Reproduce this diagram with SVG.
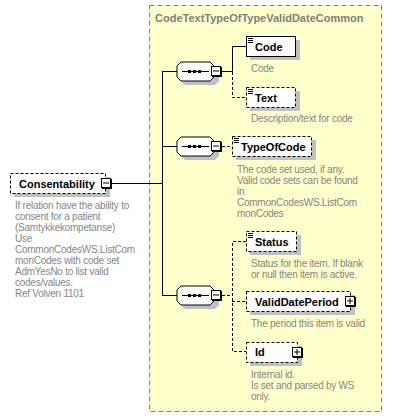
<svg xmlns="http://www.w3.org/2000/svg" width="414" height="418" viewBox="0 0 414 418">
<style>
.name{font-family:"Liberation Sans",Arial,sans-serif;font-size:11px;font-weight:bold;fill:#000}
.ann{font-family:"Liberation Sans",Arial,sans-serif;font-size:10px;fill:#868686;letter-spacing:-0.25px}
.title{font-family:"Liberation Sans",Arial,sans-serif;font-size:11px;font-weight:bold;fill:#808080}
.box{fill:#fff;stroke:#000;stroke-width:1}
.opt{stroke-dasharray:3,2}
.sh{fill:#c0c0c0}
.ln{stroke:#000;stroke-width:1;fill:none}
.dl{stroke:#000;stroke-width:1;fill:none;stroke-dasharray:3,2}
.btn{fill:#fff;stroke:#000;stroke-width:1}
</style>
<defs>
<g id="minus"><rect x="1" y="1" width="10" height="10" fill="#000"/><rect x="0.5" y="0.5" width="9" height="9" class="btn"/><line x1="2" y1="5" x2="8" y2="5" stroke="#000"/></g>
<g id="plus"><rect x="1" y="1" width="10" height="10" fill="#000"/><rect x="0.5" y="0.5" width="9" height="9" class="btn"/><line x1="2" y1="5" x2="8" y2="5" stroke="#000"/><line x1="5" y1="2" x2="5" y2="8" stroke="#000"/></g>
<g id="icon"><line x1="0" y1="0.5" x2="5" y2="0.5" stroke="#000"/><line x1="0" y1="2.5" x2="5" y2="2.5" stroke="#000"/><line x1="0" y1="4.5" x2="5" y2="4.5" stroke="#000"/></g>
<g id="seq">
<polygon points="9,4 39,4 43,8 43,19 39,23 9,23 5,19 5,8" class="sh"/>
<polygon points="5,0 34,0 38,4 38,15 34,19 5,19 1,15 1,4" fill="#fff" stroke="#000"/>
<line x1="6" y1="9.5" x2="33" y2="9.5" stroke="#000"/>
<rect x="12" y="8" width="3" height="3" fill="#000"/><rect x="17" y="8" width="3" height="3" fill="#000"/><rect x="22" y="8" width="3" height="3" fill="#000"/>
</g>
</defs>
<rect x="149.5" y="5.5" width="232" height="406" fill="#ffffcc" stroke="#808080" stroke-dasharray="5,3"/>
<text class="title" x="155" y="22">CodeTextTypeOfTypeValidDateCommon</text>
<g id="connectors">
<line x1="111" y1="183.5" x2="162" y2="183.5" class="ln"/>
<line x1="162.5" y1="71" x2="162.5" y2="296" class="ln"/>
<line x1="162" y1="71.5" x2="177" y2="71.5" class="ln"/>
<line x1="162" y1="146.5" x2="177" y2="146.5" class="ln"/>
<line x1="162" y1="295.5" x2="177" y2="295.5" class="ln"/>
<polyline points="222,71.5 232.5,71.5 232.5,46.5 246,46.5" class="ln"/>
<polyline points="232.5,72 232.5,97.5 246,97.5" class="dl"/>
<line x1="222" y1="146.5" x2="232" y2="146.5" class="dl"/>
<line x1="222" y1="295.5" x2="232" y2="295.5" class="dl"/>
<polyline points="246,241.5 232.5,241.5 232.5,351.5 246,351.5" class="dl"/>
<line x1="232" y1="301.5" x2="246" y2="301.5" class="dl"/>
</g>
<g id="Consentability">
<rect x="14" y="177" width="96" height="20" class="sh"/>
<rect x="10.5" y="173.5" width="95" height="20" class="box opt"/>
<text class="name" x="19" y="188">Consentability</text>
<use href="#minus" x="101" y="178"/>
<text class="ann" x="15" y="209">If relation have the ability to</text>
<text class="ann" x="15" y="220">consent for a patient</text>
<text class="ann" x="15" y="231">(Samtykkekompetanse)</text>
<text class="ann" x="15" y="242">Use</text>
<text class="ann" x="15" y="253">CommonCodesWS.ListCom</text>
<text class="ann" x="15" y="264">monCodes with code set</text>
<text class="ann" x="15" y="275">AdmYesNo to list valid</text>
<text class="ann" x="15" y="286">codes/values.</text>
<text class="ann" x="15" y="297">Ref Volven 1101</text>
</g>
<g id="seq1">
<use href="#seq" x="176" y="62"/>
<use href="#minus" x="211" y="66"/>
</g>
<g id="seq2">
<use href="#seq" x="176" y="137"/>
<use href="#minus" x="211" y="141"/>
</g>
<g id="seq3">
<use href="#seq" x="176" y="286"/>
<use href="#minus" x="211" y="290"/>
</g>
<g id="Code">
<rect x="250" y="40" width="50" height="20" class="sh"/>
<rect x="246.5" y="36.5" width="49" height="20" class="box"/>
<use href="#icon" x="248" y="38"/>
<text class="name" x="255" y="51">Code</text>
<text class="ann" x="251" y="72">Code</text>
</g>
<g id="Text">
<rect x="250" y="91" width="50" height="20" class="sh"/>
<rect x="246.5" y="87.5" width="49" height="20" class="box opt"/>
<use href="#icon" x="248" y="89"/>
<text class="name" x="255" y="102">Text</text>
<text class="ann" x="251" y="122">Description/text for code</text>
</g>
<g id="TypeOfCode">
<rect x="236" y="140" width="80" height="20" class="sh"/>
<rect x="232.5" y="136.5" width="79" height="20" class="box opt"/>
<use href="#icon" x="234" y="138"/>
<text class="name" x="241" y="151">TypeOfCode</text>
<text class="ann" x="237" y="173">The code set used, if any.</text>
<text class="ann" x="237" y="184">Valid code sets can be found</text>
<text class="ann" x="237" y="195">in</text>
<text class="ann" x="237" y="206">CommonCodesWS.ListCom</text>
<text class="ann" x="237" y="217">monCodes</text>
</g>
<g id="Status">
<rect x="250" y="235" width="51" height="20" class="sh"/>
<rect x="246.5" y="231.5" width="50" height="20" class="box opt"/>
<use href="#icon" x="248" y="233"/>
<text class="name" x="255" y="246">Status</text>
<text class="ann" x="251" y="267">Status for the item. If blank</text>
<text class="ann" x="251" y="278">or null then item is active.</text>
</g>
<g id="ValidDatePeriod">
<rect x="250" y="295" width="105" height="20" class="sh"/>
<rect x="246.5" y="291.5" width="104" height="20" class="box opt"/>
<text class="name" x="255" y="306">ValidDatePeriod</text>
<use href="#plus" x="345" y="296"/>
<text class="ann" x="251" y="327">The period this item is valid</text>
</g>
<g id="Id">
<rect x="250" y="346" width="52" height="20" class="sh"/>
<rect x="246.5" y="342.5" width="51" height="20" class="box opt"/>
<text class="name" x="255" y="356">Id</text>
<use href="#plus" x="292" y="347"/>
<text class="ann" x="251" y="378">Internal id.</text>
<text class="ann" x="251" y="389">Is set and parsed by WS</text>
<text class="ann" x="251" y="400">only.</text>
</g>
</svg>
